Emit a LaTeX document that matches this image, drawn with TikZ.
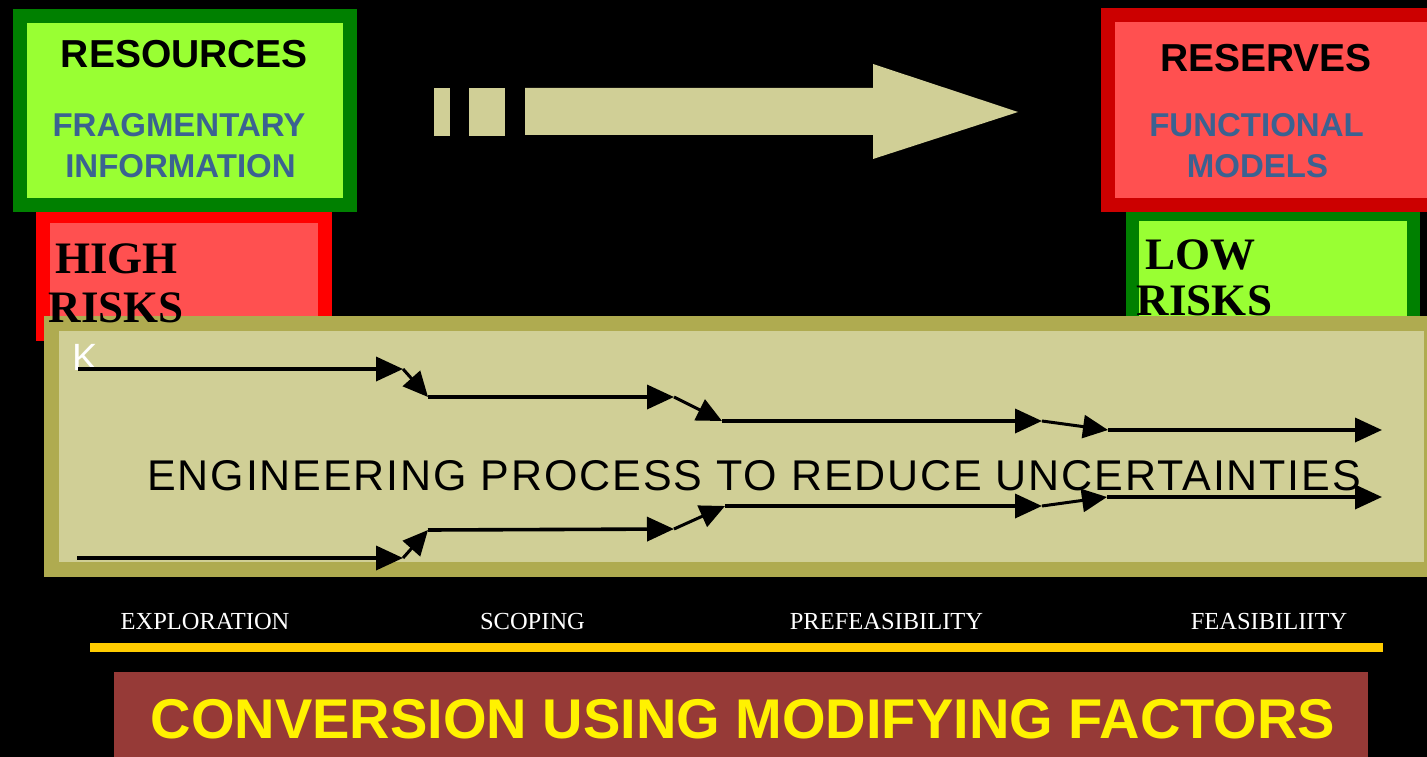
\documentclass[tikz,border=0pt]{standalone}
\usepackage{fontspec}
\setmainfont{Liberation Serif}
\newfontfamily\arial{Liberation Sans}
\newfontfamily\arialspaced[LetterSpace=4.4]{Liberation Sans}
\usetikzlibrary{arrows.meta}

\definecolor{darkgrn}{RGB}{0,128,0}
\definecolor{lightgrn}{RGB}{153,255,51}
\definecolor{brightred}{RGB}{255,0,0}
\definecolor{deepred}{RGB}{204,0,0}
\definecolor{salmon}{RGB}{255,80,80}
\definecolor{olive}{RGB}{175,171,80}
\definecolor{khaki}{RGB}{208,207,150}
\definecolor{amber}{RGB}{255,204,0}
\definecolor{brick}{RGB}{150,58,55}
\definecolor{steel}{RGB}{59,98,145}

\tikzset{
  framebox/.style={line width=14pt},
  headline/.style={font=\arial\bfseries\fontsize{39}{39}\selectfont, anchor=base, inner sep=0pt},
  subline/.style={font=\arial\bfseries\fontsize{33}{33}\selectfont, text=steel, anchor=base, inner sep=0pt},
  riskline/.style={font=\bfseries\fontsize{45}{45}\selectfont, anchor=base, inner sep=0pt},
  stagelabel/.style={font=\fontsize{24.5}{24.5}\selectfont, text=white, anchor=base, inner sep=0pt},
  flow/.style={line width=3.6pt, -{Triangle[length=27pt,width=24pt]}},
  hop/.style={line width=3pt, -{Triangle[length=25pt,width=23pt]}},
}

\begin{document}
\begin{tikzpicture}[x=1pt,y=-1pt]
\useasboundingbox (0,0) rectangle (1427,757);
\clip (0,0) rectangle (1427,757);
\fill[black] (0,0) rectangle (1427,757);

% risk boxes (behind the headline boxes)
\draw[framebox, draw=brightred, fill=salmon] (43,216) rectangle (325,334);
\draw[framebox, line width=13pt, draw=darkgrn, fill=lightgrn] (1132.5,214) rectangle (1413.5,330);

% headline boxes
\draw[framebox, draw=darkgrn, fill=lightgrn] (20,16) rectangle (350,205);
\draw[framebox, draw=deepred, fill=salmon] (1108,15) rectangle (1460,205);

\node[headline] (resources) at (184.5,68) {RESOURCES};
\node[subline] (fragm) at (179,137) {FRAGMENTARY};
\node[subline] (info) at (180.5,178) {INFORMATION};

\node[headline] (reserves) at (1266,72) {RESERVES};
\node[subline] (funct) at (1256.5,137) {FUNCTIONAL};
\node[subline] (models) at (1257.5,177) {MODELS};

% broad arrow pointing from resources to reserves
\fill[khaki] (434,88) rectangle (450,136);
\fill[khaki] (469,88) rectangle (505,136);
\fill[khaki] (525,88) -- (873,88) -- (873,64) -- (1018,112) -- (873,159)
  -- (873,135) -- (525,135) -- cycle;

% engineering process panel
\draw[line width=15pt, draw=olive, fill=khaki] (51.5,323.5) rectangle (1431.5,569.5);

% risk labels sit over the panel edge
\node[riskline] (high) at (116.5,273) {HIGH};
\node[riskline] (hrisks) at (116.5,322) {RISKS};
\node[riskline] (low) at (1200,269) {LOW};
\node[riskline] (lrisks) at (1204.5,315) {RISKS};

\node[font=\arial\fontsize{38}{38}\selectfont, text=white, anchor=base west, inner sep=0pt]
  (kmark) at (72,370) {K};
\node[font=\arialspaced\fontsize{43}{43}\selectfont, anchor=base west, inner sep=0pt]
  (process) at (147,490) {ENGINEERING PROCESS TO REDUCE UNCERTAINTIES};

% upper chain of steps
\coordinate (a0) at (78,369);
\coordinate (a1) at (403,369);
\coordinate (b0) at (428,397);
\coordinate (b1) at (674,397);
\coordinate (c0) at (722,421);
\coordinate (c1) at (1042,421);
\coordinate (d0) at (1108,430);
\coordinate (d1) at (1382,430);
\draw[flow] (a0) -- (a1);
\draw[hop] (a1) -- (b0);
\draw[flow] (b0) -- (b1);
\draw[hop] (b1) -- (c0);
\draw[flow] (c0) -- (c1);
\draw[hop] (c1) -- (d0);
\draw[flow] (d0) -- (d1);

% lower chain of steps
\coordinate (e0) at (77,558);
\coordinate (e1) at (403,558);
\coordinate (f0) at (428,530);
\coordinate (f1) at (674,529);
\coordinate (g0) at (725,506);
\coordinate (g1) at (1042,506);
\coordinate (h0) at (1107,497);
\coordinate (h1) at (1382,497);
\draw[flow] (e0) -- (e1);
\draw[hop] (e1) -- (f0);
\draw[flow] (f0) -- (f1);
\draw[hop] (f1) -- (g0);
\draw[flow] (g0) -- (g1);
\draw[hop] (g1) -- (h0);
\draw[flow] (h0) -- (h1);

% study stages
\node[stagelabel] (explo) at (205,629) {EXPLORATION};
\node[stagelabel] (scoping) at (532.5,629) {SCOPING};
\node[stagelabel] (prefeas) at (886.5,629) {PREFEASIBILITY};
\node[stagelabel] (feas) at (1269,629) {FEASIBILIITY};
\fill[amber] (90,643) rectangle (1383,652);

% modifying factors banner
\fill[brick] (114,672) rectangle (1368,770);
\node[font=\arial\bfseries\fontsize{56}{56}\selectfont, text=yellow, anchor=base, inner sep=0pt]
  (conversion) at (743,738) {CONVERSION USING MODIFYING FACTORS};
\end{tikzpicture}
\end{document}
